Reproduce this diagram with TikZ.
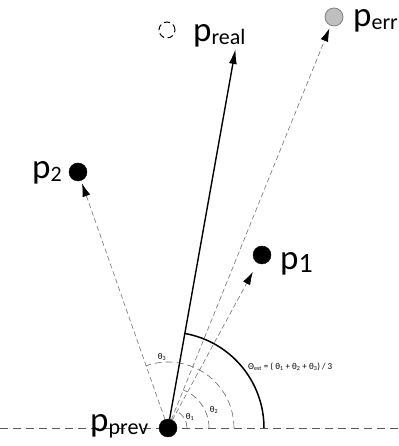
\documentclass[tikz,border=0pt]{standalone}
\usepackage{fontspec}
\setmainfont{Carlito}
\usetikzlibrary{arrows.meta}
\newcommand{\pname}[2][22]{\fontsize{35}{35}\selectfont p\raisebox{-3pt}{\fontsize{#1}{#1}\selectfont #2}}
\begin{document}
\begin{tikzpicture}[x=1pt,y=1pt]
\tikzstyle{dot}=[circle,fill=black,draw=black,inner sep=0pt,minimum size=18pt]
\tikzstyle{ghost}=[circle,draw=black,dash pattern=on 6pt off 3.5pt,line width=1pt,inner sep=0pt,minimum size=16pt]
\tikzstyle{err}=[circle,fill=black!25,draw=black!50,line width=.8pt,inner sep=0pt,minimum size=18pt]
\tikzstyle{plabel}=[inner sep=0pt,anchor=base west]
\tikzstyle{anglbl}=[inner sep=0pt,font=\fontsize{9}{9}\selectfont]
\tikzstyle{guide}=[draw,black!65,dash pattern=on 8pt off 5pt,line width=.7pt]
\tikzstyle{angarc}=[draw,black!60,dash pattern=on 7pt off 4pt,line width=.6pt]
\tikzstyle{ray}=[draw,black!55,dash pattern=on 5pt off 3pt,line width=.6pt,-{Latex[black,length=13pt,width=8pt]}]
\tikzstyle{realarrow}=[draw,black,line width=1.4pt,-{Latex[length=15pt,width=8pt]}]
\useasboundingbox (0,0) rectangle (398,446);
\fill[white] (0,0) rectangle (398,446);
% base line and angles
\coordinate (west) at (0,18);
\coordinate (east) at (398,18);
\coordinate (origin) at (168,18);
\path[guide] (west) -- (east);
\path[angarc] (origin) ++(0:19) arc[start angle=0,end angle=62.6,radius=19];
\path[angarc] (origin) ++(0:41) arc[start angle=0,end angle=67.9,radius=41];
\path[angarc] (origin) ++(0:66) arc[start angle=0,end angle=109.3,radius=66];
\path[draw,line width=1.5pt] (origin) ++(0:96) arc[start angle=0,end angle=79.9,radius=96];
% points
\node[dot] (prev) at (origin) {};
\node[dot] (p1) at (262,191) {};
\node[dot] (p2) at (78,274) {};
\node[err] (perr) at (334,429) {};
\node[ghost] (preal) at (167,416) {};
\coordinate (realtip) at ([shift={(79.9:385)}]origin);
% labels
\node[plabel] (prevlbl) at (90,14) {\pname{prev}};
\node[plabel] (p1lbl) at (280,176) {\pname[28]{1}};
\node[plabel] (p2lbl) at (32,267) {\pname{2}};
\node[plabel] (reallbl) at (193,404) {\pname{real}};
\node[plabel] (errlbl) at (353,419) {\pname{err}};
\node[anglbl] (th1) at (190,29) {θ\textsubscript{1}};
\node[anglbl] (th2) at (214,36) {θ\textsubscript{2}};
\node[anglbl] (th3) at (162,89) {θ\textsubscript{3}};
\node[anglbl,anchor=west] (formula) at (248,79) {Θ\textsubscript{est} = ( θ\textsubscript{1} + θ\textsubscript{2} + θ\textsubscript{3}) / 3};
% rays
\path[ray,shorten >=10pt] (prev) -- (p1);
\path[ray,shorten >=3pt] (prev) -- (p2);
\path[ray,shorten >=3pt] (prev) -- (perr);
\path[realarrow] (prev) -- (realtip);
\end{tikzpicture}
\end{document}
